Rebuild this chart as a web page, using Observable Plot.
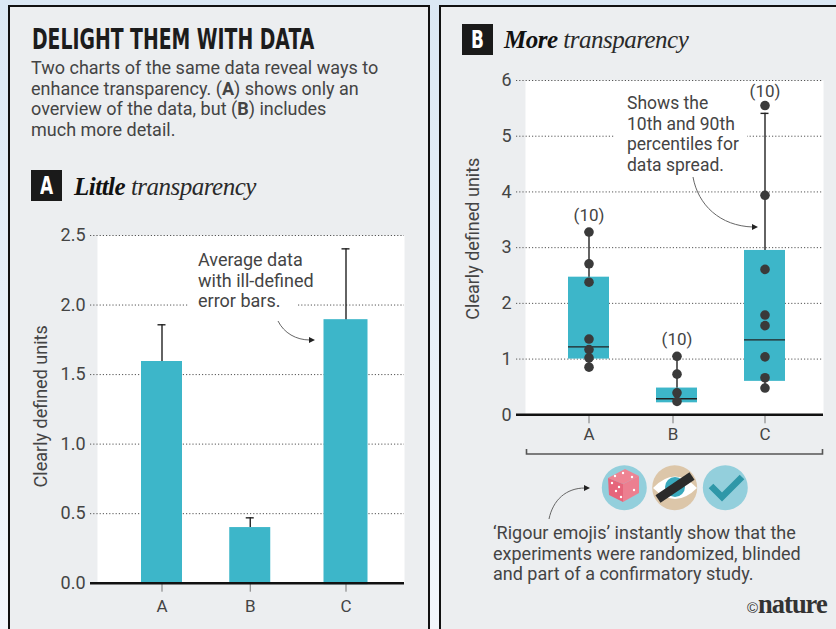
<!DOCTYPE html>
<html><head><meta charset="utf-8">
<script src="https://cdn.jsdelivr.net/npm/d3@7"></script>
<script src="https://cdn.jsdelivr.net/npm/@observablehq/plot@0.6"></script>
<style>
html,body{margin:0;padding:0;width:836px;height:629px;overflow:hidden;background:linear-gradient(#dbe8f4,#f3f7fc);}
.panel{position:absolute;top:5px;height:640px;background:#eceef0;border:2px solid #111;box-sizing:border-box;}
.t{position:absolute;font-family:Roboto,sans-serif;color:#444;white-space:nowrap;font-size:18px;line-height:20.6px;}
.title{position:absolute;left:32px;top:22px;font:bold 29px "DejaVu Sans",sans-serif;color:#1c1c1c;white-space:nowrap;transform-origin:0 0;transform:scaleX(.649);}
.badge{position:absolute;width:31px;height:31px;background:#1a1a1a;color:#fff;font:bold 25px/31px "DejaVu Sans",sans-serif;text-align:center;}
.badge span{display:inline-block;transform:scaleX(.68);}
.head{position:absolute;font:italic 25px "Liberation Serif",serif;color:#2a2a2a;white-space:nowrap;letter-spacing:-.5px;}
.head b{color:#111;}
.chart{position:absolute;}
.chart svg{display:block;overflow:visible;background:transparent;}
.note{position:absolute;background:#fff;font-family:Roboto,sans-serif;font-size:18px;line-height:20.6px;color:#444;white-space:nowrap;box-sizing:border-box;}
#overlay{position:absolute;left:0;top:0;}
.nature{position:absolute;left:747px;top:589px;font:bold 26.5px "Liberation Serif",serif;color:#333;letter-spacing:-1px;white-space:nowrap;}
.nature small{font:normal 15px "Liberation Sans",sans-serif;letter-spacing:0;}
</style></head>
<body>
<div class="panel" style="left:8px;width:422px"></div>
<div class="panel" style="left:439px;width:420px"></div>

<div class="title" id="ttl">DELIGHT THEM WITH DATA</div>
<div class="t" style="left:31px;top:58px">Two charts of the same data reveal ways to<br>enhance transparency. (<b>A</b>) shows only an<br>overview of the data, but (<b>B</b>) includes<br>much more detail.</div>
<div class="badge" style="left:31px;top:170px"><span>A</span></div>
<div class="head" style="left:74px;top:173px"><b>Little</b> transparency</div>
<div class="badge" style="left:462px;top:24px"><span>B</span></div>
<div class="head" style="left:504px;top:26px"><b>More</b> transparency</div>

<div class="chart" id="a" style="left:0;top:215px"></div>
<div class="chart" id="b" style="left:430px;top:60px"></div>

<div class="note" style="left:188px;top:250px;width:110px;height:62px;padding-left:10px">Average data<br>with ill-defined<br>error bars.</div>
<div class="note" style="left:614px;top:93px;width:133px;height:83px;padding-left:13px;font-size:17.5px">Shows the<br>10th and 90th<br>percentiles for<br>data spread.</div>

<svg id="overlay" width="836" height="629" fill="none">
  <path d="M278 321C284 333 296 340 310 340" stroke="#666" stroke-width="1"/><path d="M309 337l6 3l-6 3z" fill="#222"/>
  <path d="M693 177C698 205 720 226 753 227" stroke="#666" stroke-width="1"/><path d="M752 224l6 3l-6 3z" fill="#222"/>
  <path d="M549 519C553 500 566 488 585 488" stroke="#666" stroke-width="1"/><path d="M584 485l6 3l-6 3z" fill="#222"/>
  <path d="M526.5 449v5h296v-5" stroke="#555" stroke-width="1.6"/>
  <circle cx="624.3" cy="487.7" r="22.5" fill="#93cfdc"/>
  <path d="M608 478l17-9l14 7l-16 8z" fill="#ee8493"/><path d="M608 478l15 6v18l-14-7z" fill="#e6657b"/><path d="M623 484l16-8v17l-16 9z" fill="#ec7f90"/>
  <g fill="#fff"><circle cx="615" cy="476" r="1.2"/><circle cx="623" cy="473" r="1.2"/><circle cx="632" cy="477" r="1.2"/><circle cx="612" cy="483" r="1.2"/><circle cx="619" cy="487" r="1.2"/><circle cx="616" cy="491" r="1.2"/><circle cx="621" cy="497" r="1.2"/><circle cx="634" cy="490" r="1.2"/></g>
  <circle cx="674.7" cy="487.7" r="22.5" fill="#dcc6a9"/>
  <path d="M653 488Q675 465 697 488Q675 510 653 488z" fill="#fff"/><circle cx="675" cy="487" r="10" fill="#3aa9bd"/>
  <path d="M658 499L692 476" stroke="#2b2b2b" stroke-width="9"/>
  <circle cx="725.3" cy="487.7" r="22.5" fill="#93cfdc"/>
  <path d="M711 486l11 11l20 -20" stroke="#2f97a8" stroke-width="6.5"/>
</svg>

<div class="t" style="left:493px;top:523px">‘Rigour emojis’ instantly show that the<br>experiments were randomized, blinded<br>and part of a confirmatory study.</div>
<div class="nature"><small>©</small>nature</div>

<script>
const categories = ["A", "B", "C"];
const means = [1.594, 0.40, 1.884];
const errorTops = [1.858, 0.47, 2.404];
const yTicksA = [0, 0.5, 1, 1.5, 2, 2.5];
const yTicksB = [0, 1, 2, 3, 4, 5, 6];
const boxLow = [1.0, 0.215, 0.6];
const boxHigh = [2.47, 0.48, 2.95];
const medians = [1.22, 0.287, 1.345];
const whiskerHigh = [3.28, 1.05, 5.41];
const whiskerLow = [0.855, 0.24, 0.48];
const sampleSizes = [10, 10, 10];
const pointsA = [3.28, 2.71, 2.38, 1.36, 1.17, 1.02, 0.855];
const pointsB = [1.05, 0.73, 0.395, 0.24];
const pointsC = [5.55, 3.94, 2.61, 1.79, 1.60, 1.04, 0.665, 0.48];
const axisTitle = "Clearly defined units";

const teal = "#3db6c9", ink = "#222", textInk = "#444", FONT = "Roboto, sans-serif";
const rows = categories.map((c, i) => ({c, mean: means[i], top: errorTops[i], lo: boxLow[i], hi: boxHigh[i], med: medians[i], wHi: whiskerHigh[i], wLo: whiskerLow[i], n: sampleSizes[i]}));
const points = [...pointsA.map(v => ({c: "A", v})), ...pointsB.map(v => ({c: "B", v})), ...pointsC.map(v => ({c: "C", v}))];

const gridStyle = {stroke: "#555", strokeOpacity: 1, strokeDasharray: "1.2 2", strokeWidth: 1};
function xAxes(nudge, tickPadding) {
  return categories.map(c => Plot.axisX({ticks: [c], label: null, dx: nudge[c] || 0, tickSize: 9, tickPadding, fontSize: 17, stroke: "#777", color: textInk}));
}
function yTitle(dx, dy) {
  return Plot.text([axisTitle], {frameAnchor: "left", textAnchor: "middle", rotate: -90, dx, dy, fontSize: 18, fill: textInk});
}

// Panel A
const nudgeA = {B: -3.75};
const chartA = Plot.plot({
  width: 430, height: 400, marginLeft: 90, marginRight: 26, marginTop: 20, marginBottom: 32.3,
  style: {background: "transparent", fontFamily: FONT, color: textInk},
  x: {type: "band", domain: categories, range: [141, 366.5], paddingInner: 0.555, paddingOuter: 0},
  y: {domain: [0, 2.5], ticks: yTicksA},
  marks: [
    Plot.frame({fill: "#fff", stroke: null, insetLeft: 7}),
    Plot.gridY(yTicksA, gridStyle),
    ...rows.map(d => {
      const dx = nudgeA[d.c] || 0;
      return [
        Plot.ruleX([d], {x: "c", y1: "mean", y2: "top", stroke: ink, strokeWidth: 1.4, dx}),
        Plot.tickY([d], {x: "c", y: "top", stroke: ink, strokeWidth: 1.4, dx, insetLeft: 16.5, insetRight: 16.5}),
        Plot.barY([d], {x: "c", dx, y: "mean", fill: teal, inset: d.c === "C" ? -1.5 : 0})
      ];
    }),
    Plot.axisY({ticks: yTicksA, tickFormat: d3.format(".1f"), label: null, tickSize: 0, tickPadding: 5, fontSize: 18, color: textInk}),
    ...xAxes(nudgeA, 8),
    Plot.ruleY([0], {stroke: "#111", strokeWidth: 2.6}),
    yTitle(-49, -3)
  ]
});
document.getElementById("a").append(chartA);
// Panel B
const nudgeB = {B: -4};
const chartB = Plot.plot({
  width: 406, height: 400, marginLeft: 86, marginRight: 13, marginTop: 20, marginBottom: 45.7,
  style: {background: "transparent", fontFamily: FONT, color: textInk},
  x: {type: "band", domain: categories, range: [137, 356], paddingInner: 0.539, paddingOuter: 0},
  y: {domain: [0, 6], ticks: yTicksB},
  marks: [
    Plot.frame({fill: "#fff", stroke: null, insetLeft: 9}),
    Plot.gridY(yTicksB, gridStyle),
    Plot.ruleX(rows, {x: "c", y1: "wLo", y2: "wHi", stroke: ink, strokeWidth: 1.4}),
    Plot.tickY(rows, {x: "c", y: "wHi", stroke: ink, strokeWidth: 1.4, insetLeft: 16.5, insetRight: 16.5}),
    Plot.barY(rows, {x: "c", y1: "lo", y2: "hi", fill: teal}),
    Plot.tickY(rows, {x: "c", y: "med", stroke: ink, strokeWidth: 1.4}),
    Plot.dot(points, {x: "c", y: "v", r: 4.8, fill: "#3a3a3a"}),
    ...rows.map(d => Plot.text([d], {x: "c", y: d3.max(points.filter(p => p.c === d.c), p => p.v), text: e => `(${e.n})`, dy: d.c === "C" ? -14 : -17, fontSize: 17, fill: textInk})),
    Plot.axisY({ticks: yTicksB, tickFormat: d3.format("d"), label: null, tickSize: 0, tickPadding: 5, fontSize: 18, color: textInk}),
    ...xAxes(nudgeB, 4),
    Plot.ruleY([0], {stroke: "#111", strokeWidth: 2.6}),
    yTitle(-43, -9)
  ]
});
document.getElementById("b").append(chartB);
</script>
</body></html>
